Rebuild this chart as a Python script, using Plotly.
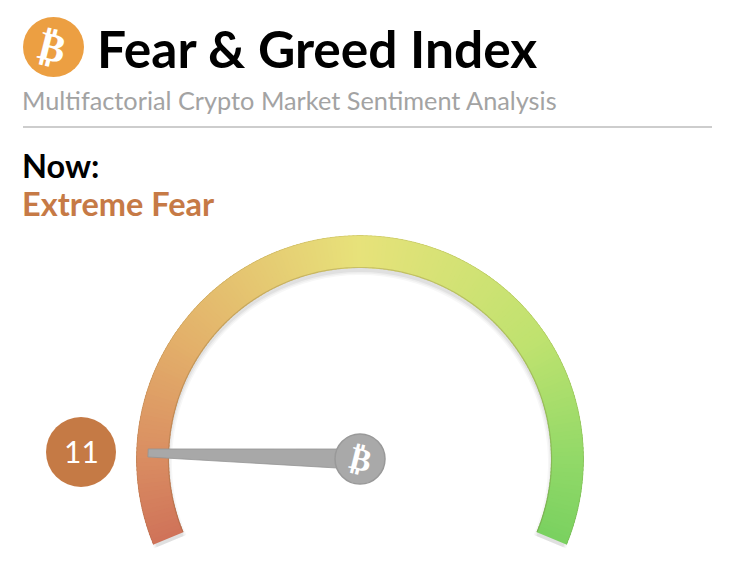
import numpy as np
import plotly.graph_objects as go

# ---- chart values ----
title_text = "Fear & Greed Index"
subtitle_text = "Multifactorial Crypto Market Sentiment Analysis"
now_label = "Now:"
state_label = "Extreme Fear"
index_value = 11
score_min, score_max = 0, 100
stop_scores = [0, 11, 25, 50, 75, 90, 100]
stop_colors = ["#cf7259", "#da8f62", "#e3b06a", "#e7e27a", "#bfe26f", "#92d968", "#7ad160"]

# ---- page geometry (pixels) ----
W, H = 730, 582
CX, CY, R_OUT, R_IN = 360, 459, 224, 191
START, SWEEP = -22.5, 225

def px(x): return x / W
def py(y): return 1 - y / H
def theta_of(s): return 180 - START - SWEEP * (s - score_min) / (score_max - score_min)  # score -> degrees

def polar_domain(dx=0, dy=0):
    low = np.sin(np.radians(-START))
    return dict(x=[px(CX - R_OUT + dx), px(CX + R_OUT + dx)],
                y=[py(CY + R_OUT * low + dy), py(CY - R_OUT + dy)])

def polar_layout(dx=0, dy=0):
    return dict(domain=polar_domain(dx, dy), sector=[START, 180 - START], bgcolor="rgba(0,0,0,0)",
                radialaxis=dict(visible=False, range=[0, R_OUT]),
                angularaxis=dict(visible=False))

fig = go.Figure()

# soft drop shadow (lower polar subplot)
for grow, alpha in [(4, 0.03), (2.5, 0.04), (1, 0.05)]:
    fig.add_trace(go.Barpolar(r=[R_OUT - R_IN - 6 + 2 * grow], base=[R_IN + 1 - grow], theta=[90], width=[SWEEP + 1],
                              marker=dict(color=f"rgba(0,0,0,{alpha})", line=dict(width=0)),
                              subplot="polar", hoverinfo="skip", showlegend=False))

# gauge band
scores = np.arange(score_min, score_max + 0.5, 0.5)
fig.add_trace(go.Barpolar(
    r=np.full(len(scores), R_OUT - R_IN), base=np.full(len(scores), R_IN),
    theta=[theta_of(s) for s in scores], width=np.full(len(scores), 1.7),
    marker=dict(color=scores, cmin=score_min, cmax=score_max, line=dict(width=0),
                colorscale=[[s / score_max, c] for s, c in zip(stop_scores, stop_colors)], showscale=False),
    subplot="polar2", hoverinfo="skip", showlegend=False))

# bevel on the arc edges
arc_theta = np.linspace(theta_of(score_min), theta_of(score_max), 200)
fig.add_trace(go.Scatterpolar(r=np.full(200, R_IN + 0.5), theta=arc_theta, mode="lines",
                              line=dict(color="rgba(110,90,40,0.25)", width=1.2),
                              subplot="polar2", hoverinfo="skip", showlegend=False, cliponaxis=False))
fig.add_trace(go.Scatterpolar(r=np.full(200, R_OUT - 0.5), theta=arc_theta, mode="lines",
                              line=dict(color="rgba(120,110,60,0.18)", width=1),
                              subplot="polar2", hoverinfo="skip", showlegend=False, cliponaxis=False))

# needle, pointing at the index value
needle_theta = theta_of(index_value)
shape_along = np.array([212, 212, 23, 23, 212])
shape_perp = np.array([1.7, -6.3, -9.9, 9.1, 1.7])
fig.add_trace(go.Scatterpolar(
    r=np.hypot(shape_along, shape_perp),
    theta=needle_theta - np.degrees(np.arctan2(shape_perp, shape_along)),
    mode="lines", fill="toself", fillcolor="#a8a8a8", line=dict(color="#949494", width=0.8),
    subplot="polar2", hoverinfo="skip", showlegend=False, cliponaxis=False))

# hub
fig.add_trace(go.Scatterpolar(r=[0], theta=[90], mode="markers",
                              marker=dict(size=50, color="#a9a9a9", line=dict(color="#999999", width=1.5)),
                              subplot="polar2", hoverinfo="skip", showlegend=False, cliponaxis=False))

shapes = [
    dict(type="line", xref="paper", yref="paper", x0=px(23), x1=px(712), y0=py(127), y1=py(127),
         line=dict(color="#bdbdbd", width=1.5)),
    dict(type="circle", xref="paper", yref="paper", x0=px(23), x1=px(84), y0=py(77), y1=py(17),
         fillcolor="#ec9f42", line=dict(width=0)),
    dict(type="circle", xref="paper", yref="paper", x0=px(46), x1=px(116), y0=py(487), y1=py(417),
         fillcolor="#c57a45", line=dict(width=0)),
]

def label(x, y, text, size, color, xanchor="left", font="Lato", angle=0):
    return dict(xref="paper", yref="paper", x=px(x), y=py(y), text=text, showarrow=False, xanchor=xanchor,
                yanchor="middle", textangle=angle, font=dict(family=font, size=size, color=color),
                borderpad=0, borderwidth=0)

annotations = [
    label(97, 48, f"<b>{title_text}</b>", 51.5, "#000000"),
    label(22, 100, subtitle_text, 25.3, "#a3a3a3"),
    label(22, 165, f"<b>{now_label}</b>", 32.5, "#000000"),
    label(22, 203, f"<b>{state_label}</b>", 32.5, "#c67a46"),
    label(81, 451, str(index_value), 30, "#ffffff", xanchor="center"),
    label(53, 47, "<b>\u20bf</b>", 40, "#ffffff", xanchor="center", font="DejaVu Sans", angle=14),
    label(360, 459, "<b>\u20bf</b>", 32, "#ffffff", xanchor="center", font="DejaVu Sans", angle=14),
]

fig.update_layout(width=W, height=H, margin=dict(l=0, r=0, t=0, b=0), showlegend=False,
                  paper_bgcolor="#ffffff", plot_bgcolor="#ffffff",
                  polar=polar_layout(0, 4), polar2=polar_layout(),
                  barmode="overlay", shapes=shapes, annotations=annotations)

fig.write_html("out.html", config=dict(displayModeBar=False), post_script="document.body.style.margin='0';")
